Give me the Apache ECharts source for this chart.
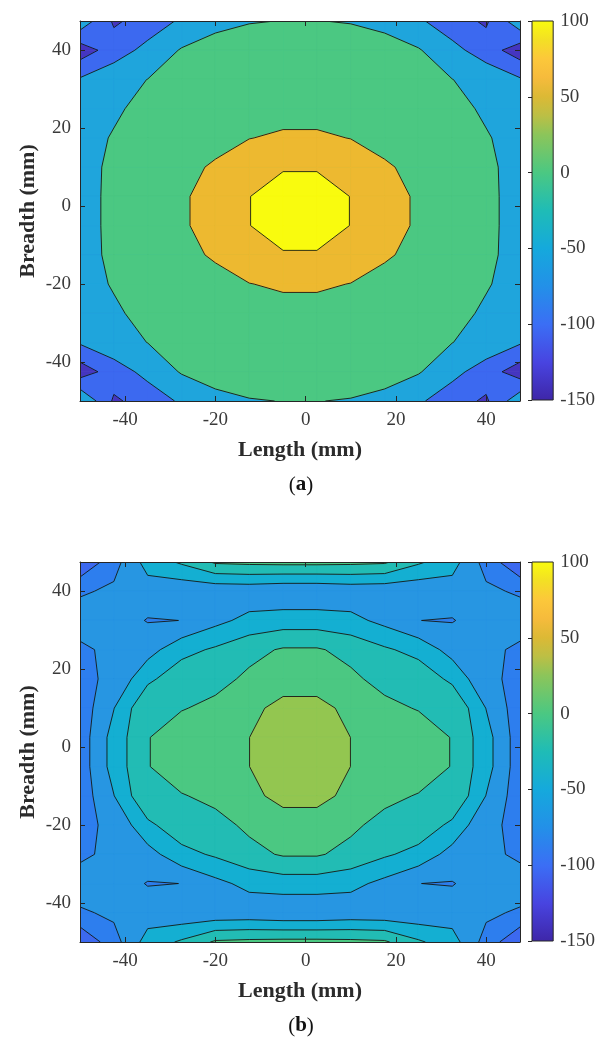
<!DOCTYPE html>
<html><head><meta charset="utf-8">
<script src="https://cdn.jsdelivr.net/npm/echarts@6/dist/echarts.min.js"></script>
<style>html,body{margin:0;padding:0;background:#fff}#c{width:598px;height:1039px}</style>
</head><body><div id="c"></div>
<script>
// grid node positions (mm)
const xNodes = [-50, -42.5, -35, -27.5, -20, -12.5, -5, 2.5, 10, 17.5, 25, 32.5, 40, 47.5];
const yNodes = [47.5, 40, 32.5, 25, 17.5, 10, 2.5, -5, -12.5, -20, -27.5, -35, -42.5, -50];

// panel (a) values, one row per yNodes entry (top to bottom)
const zA = [
  [-15, -107, -81, -42, -7, -1.5, 0.5, 0.5, -1.5, -7, -42, -81, -107, -15],
  [-127, -76, -34, 3.8, 10, 14, 16, 16, 14, 10, 3.8, -34, -76, -127],
  [-45, -15.5, 0.5, 10, 17, 22, 24, 24, 22, 17, 10, 0.5, -15.5, -45],
  [-35, -7.8, 15.8, 22, 28, 32, 35, 35, 32, 28, 22, 15.8, -7.8, -35],
  [-20, 4, 17, 27, 38, 49, 56, 56, 49, 38, 27, 17, 4, -20],
  [-9, 5, 20, 40, 54.5, 78, 91, 91, 78, 54.5, 40, 20, 5, -9],
  [-8, 5, 22, 44, 68, 97.9, 150, 150, 97.9, 68, 44, 22, 5, -8],
  [-8, 5, 22, 44, 68, 97.9, 150, 150, 97.9, 68, 44, 22, 5, -8],
  [-9, 5, 20, 40, 54.5, 78, 91, 91, 78, 54.5, 40, 20, 5, -9],
  [-20, 4, 17, 27, 38, 49, 56, 56, 49, 38, 27, 17, 4, -20],
  [-35, -7.8, 15.8, 22, 28, 32, 35, 35, 32, 28, 22, 15.8, -7.8, -35],
  [-45, -15.5, 0.5, 10, 17, 22, 24, 24, 22, 17, 10, 0.5, -15.5, -45],
  [-127, -76, -34, 3.8, 10, 14, 16, 16, 14, 10, 3.8, -34, -76, -127],
  [2, -107, -81, -42, -7, -1.5, 0.5, 0.5, -1.5, -7, -42, -81, -107, -15]
];

// panel (b) values
const zB = [
  [-98, -68, -31.6, -17, 3, 5, 6, 6, 5, 3, -17, -31.6, -68, -98],
  [-63, -56, -50, -55, -55, -54, -57, -57, -54, -55, -55, -50, -56, -63],
  [-48, -51, -61, -59.9, -45.7, -34, -30, -30, -34, -45.7, -59.9, -61, -51, -48],
  [-64.9, -53.5, -47.9, -26.7, -17.1, -6, 2, 2, -6, -17.1, -26.7, -47.9, -53.5, -64.9],
  [-63.8, -56.7, -24.6, -6.9, -6.6, 4, 12, 12, 4, -6.6, -6.9, -24.6, -56.7, -63.8],
  [-72, -40.5, -1.5, -1.3, 5.2, 15.5, 25.3, 25.3, 15.5, 5.2, -1.3, -1.5, -40.5, -72],
  [-71.4, -32, -1, 12, 16, 19.85, 35, 35, 19.85, 16, 12, -1, -32, -71.4],
  [-71.4, -32, -1, 12, 16, 19.85, 35, 35, 19.85, 16, 12, -1, -32, -71.4],
  [-72, -40.5, -1.5, -1.3, 5.2, 15.5, 25.3, 25.3, 15.5, 5.2, -1.3, -1.5, -40.5, -72],
  [-63.8, -56.7, -24.6, -6.9, -6.6, 4, 12, 12, 4, -6.6, -6.9, -24.6, -56.7, -63.8],
  [-64.9, -53.5, -47.9, -26.7, -17.1, -6, 2, 2, -6, -17.1, -26.7, -47.9, -53.5, -64.9],
  [-48, -51, -61, -59.9, -45.7, -34, -30, -30, -34, -45.7, -59.9, -61, -51, -48],
  [-63, -56, -50, -55, -55, -54, -57, -57, -54, -55, -55, -50, -56, -63],
  [-98, -68, -31.6, -17, 3, 5, 6, 6, 5, 3, -17, -31.6, -68, -98]
];

const levelsA = [-150, -100, -50, 0, 50, 100];
const levelsB = [-100, -80, -60, -40, -20, 0, 20];
const colorsA = ['#4535c0', '#3c69f0', '#1fa5dc', '#4bc882', '#edb930', '#f9fb0e'];
const colorsB = ['#3c69f0', '#2d7eee', '#2796e2', '#14afd2', '#22bcb4', '#4bc882', '#93c650'];

const axisTicks = [-40, -20, 0, 20, 40];
const axisRange = [-50, 47.5];
const cbarRange = [-150, 100];
const cbarStep = 50;
const parula = [
  [0.0, '#3e26a8'], [0.1, '#4844e0'], [0.2, '#3b6ef5'], [0.3, '#2390e8'], [0.4, '#15a9dc'],
  [0.5, '#1fbcb6'], [0.6, '#4bc882'], [0.7, '#8cc55a'], [0.75, '#bcbf45'], [0.8, '#dcb935'],
  [0.85, '#f6bb3c'], [0.9, '#fcc83a'], [0.95, '#f3e024'], [1.0, '#f9fb0e']
];

function cells(z) {
  const d = [];
  for (let j = 0; j < yNodes.length - 1; j++)
    for (let k = 0; k < xNodes.length - 1; k++)
      d.push([xNodes[k], yNodes[j], xNodes[k + 1], yNodes[j + 1], z[j][k], z[j][k + 1], z[j + 1][k + 1], z[j + 1][k]]);
  return d;
}

function crossFn(pts, zs, L) {
  return (a, b) => {
    const t = (L - zs[a]) / (zs[b] - zs[a]);
    return [pts[a][0] + t * (pts[b][0] - pts[a][0]), pts[a][1] + t * (pts[b][1] - pts[a][1])];
  };
}

// region z >= L inside one cell (linear along edges, saddle decided by cell mean)
function clipPolys(pts, zs, L) {
  const inn = zs.map(z => z >= L);
  const n = inn.filter(Boolean).length;
  if (n === 0) return [];
  if (n === 4) return [pts];
  const cross = crossFn(pts, zs, L);
  if (n === 2 && inn[0] === inn[2]) {
    const c = (zs[0] + zs[1] + zs[2] + zs[3]) / 4;
    if (c < L) {
      const out = [];
      for (let i = 0; i < 4; i++) if (inn[i]) out.push([cross((i + 3) % 4, i), pts[i], cross(i, (i + 1) % 4)]);
      return out;
    }
  }
  const out = [];
  for (let i = 0; i < 4; i++) {
    const b = (i + 1) % 4;
    if (inn[i]) out.push(pts[i]);
    if (inn[i] !== inn[b]) out.push(cross(i, b));
  }
  return [out];
}

function segs(pts, zs, L) {
  const inn = zs.map(z => z >= L);
  const n = inn.filter(Boolean).length;
  if (n === 0 || n === 4) return [];
  const cross = crossFn(pts, zs, L);
  const edges = [];
  for (let i = 0; i < 4; i++) if (inn[i] !== inn[(i + 1) % 4]) edges.push(i);
  if (edges.length === 2) return [[cross(edges[0], (edges[0] + 1) % 4), cross(edges[1], (edges[1] + 1) % 4)]];
  const c = (zs[0] + zs[1] + zs[2] + zs[3]) / 4;
  const isolated = c < L;
  const res = [];
  for (let i = 0; i < 4; i++) if (inn[i] === isolated) res.push([cross((i + 3) % 4, i), cross(i, (i + 1) % 4)]);
  return res;
}

function cellGeom(api) {
  const x0 = api.value(0), y0 = api.value(1), x1 = api.value(2), y1 = api.value(3);
  const zs = [api.value(4), api.value(5), api.value(6), api.value(7)];
  const pts = [api.coord([x0, y0]), api.coord([x1, y0]), api.coord([x1, y1]), api.coord([x0, y1])];
  return { pts, zs };
}

// one layer (z >= level) of the filled contour
function layerRenderer(level, color, isBase) {
  return function (params, api) {
    const { pts, zs } = cellGeom(api);
    const polys = isBase ? [pts] : clipPolys(pts, zs, level);
    return {
      type: 'group',
      children: polys.map(p => ({ type: 'polygon', shape: { points: p }, style: { fill: color, stroke: color, lineWidth: 0.8 } }))
    };
  };
}

function lineRenderer(levels) {
  return function (params, api) {
    const { pts, zs } = cellGeom(api);
    const children = [];
    for (let li = 1; li < levels.length; li++) {
      segs(pts, zs, levels[li]).forEach(s => children.push({
        type: 'polyline', shape: { points: s }, style: { stroke: '#161616', lineWidth: 0.9, fill: null }
      }));
    }
    return { type: 'group', children };
  };
}

const labelFont = { fontFamily: 'Liberation Serif', fontSize: 19, color: '#3a3a3a' };
const lineCol = '#262626';

function xAx(grid, pos, labels) {
  return {
    type: 'value', gridIndex: grid, position: pos, min: axisRange[0], max: axisRange[1], z: 5,
    axisLine: { show: true, onZero: false, lineStyle: { color: lineCol, width: 1 } },
    axisTick: { show: true, inside: true, length: 5, customValues: axisTicks, lineStyle: { color: lineCol } },
    axisLabel: Object.assign({ show: labels, margin: 10, customValues: axisTicks }, labelFont),
    splitLine: { show: false }
  };
}
function yAx(grid, pos, labels) {
  return {
    type: 'value', gridIndex: grid, position: pos, min: axisRange[0], max: axisRange[1], z: 5,
    axisLine: { show: true, onZero: false, lineStyle: { color: lineCol, width: 1 } },
    axisTick: { show: true, inside: true, length: 5, customValues: axisTicks, lineStyle: { color: lineCol } },
    axisLabel: Object.assign({ show: labels, margin: 9, customValues: axisTicks }, labelFont),
    splitLine: { show: false }
  };
}
function cbX(grid) { return { type: 'value', gridIndex: grid, min: 0, max: 1, show: false }; }
function cbY(grid) {
  return {
    type: 'value', gridIndex: grid, position: 'right', min: cbarRange[0], max: cbarRange[1], interval: cbarStep, z: 5,
    axisLine: { show: false },
    axisTick: { show: true, inside: true, length: 4, lineStyle: { color: lineCol } },
    axisLabel: Object.assign({ margin: 7 }, labelFont),
    splitLine: { show: false }
  };
}

const stops = parula.map(s => ({ offset: 1 - s[0], color: s[1] })).reverse();
function cbarRender(params, api) {
  const a = api.coord([api.value(0), api.value(3)]);
  const b = api.coord([api.value(2), api.value(1)]);
  return {
    type: 'rect', shape: { x: a[0], y: a[1], width: b[0] - a[0], height: b[1] - a[1] },
    style: { fill: new echarts.graphic.LinearGradient(0, 0, 0, 1, stops), stroke: lineCol, lineWidth: 1 }
  };
}

function panelSeries(axisIdx, z, levels, colors) {
  const data = cells(z);
  const out = levels.map((lv, i) => ({
    type: 'custom', xAxisIndex: axisIdx, yAxisIndex: axisIdx, z: 2, clip: true, data,
    encode: { x: [0, 2], y: [1, 3] }, renderItem: layerRenderer(lv, colors[i], i === 0)
  }));
  out.push({ type: 'custom', xAxisIndex: axisIdx, yAxisIndex: axisIdx, z: 3, clip: true, data,
    encode: { x: [0, 2], y: [1, 3] }, renderItem: lineRenderer(levels) });
  return out;
}

const titleFont = 'bold 22px "Liberation Serif"';
function texts(dy, letter) {
  return [
    { type: 'text', x: 300, y: 450 + dy, style: { text: 'Length (mm)', font: titleFont, fill: '#2b2b2b', align: 'center', verticalAlign: 'middle' } },
    { type: 'text', x: 28, y: 211 + dy, rotation: Math.PI / 2, style: { text: 'Breadth (mm)', font: titleFont, fill: '#2b2b2b', align: 'center', verticalAlign: 'middle' } },
    { type: 'text', x: 301, y: 485 + dy, style: {
      text: '{p|(}{l|' + letter + '}{p|)}', align: 'center', verticalAlign: 'middle',
      rich: { p: { font: '21px "Liberation Serif"', fill: '#111' }, l: { font: 'bold 21px "Liberation Serif"', fill: '#111' } } } }
  ];
}

const chart = echarts.init(document.getElementById('c'), null, { renderer: 'canvas' });
chart.setOption({
  animation: false,
  backgroundColor: '#ffffff',
  grid: [
    { left: 80, top: 21, width: 440, height: 380 },
    { left: 80, top: 562, width: 440, height: 380 },
    { left: 532, top: 21, width: 24, height: 379 },
    { left: 532, top: 562, width: 24, height: 379 }
  ],
  xAxis: [xAx(0, 'bottom', true), xAx(0, 'top', false), xAx(1, 'bottom', true), xAx(1, 'top', false), cbX(2), cbX(3)],
  yAxis: [yAx(0, 'left', true), yAx(0, 'right', false), yAx(1, 'left', true), yAx(1, 'right', false), cbY(2), cbY(3)],
  series: []
    .concat(panelSeries(0, zA, levelsA, colorsA))
    .concat(panelSeries(2, zB, levelsB, colorsB))
    .concat([
      { type: 'custom', xAxisIndex: 4, yAxisIndex: 4, z: 2, data: [[0, cbarRange[0], 1, cbarRange[1]]], encode: { x: [0, 2], y: [1, 3] }, renderItem: cbarRender },
      { type: 'custom', xAxisIndex: 5, yAxisIndex: 5, z: 2, data: [[0, cbarRange[0], 1, cbarRange[1]]], encode: { x: [0, 2], y: [1, 3] }, renderItem: cbarRender }
    ]),
  graphic: { elements: texts(0, 'a').concat(texts(541, 'b')) }
});
</script></body></html>
